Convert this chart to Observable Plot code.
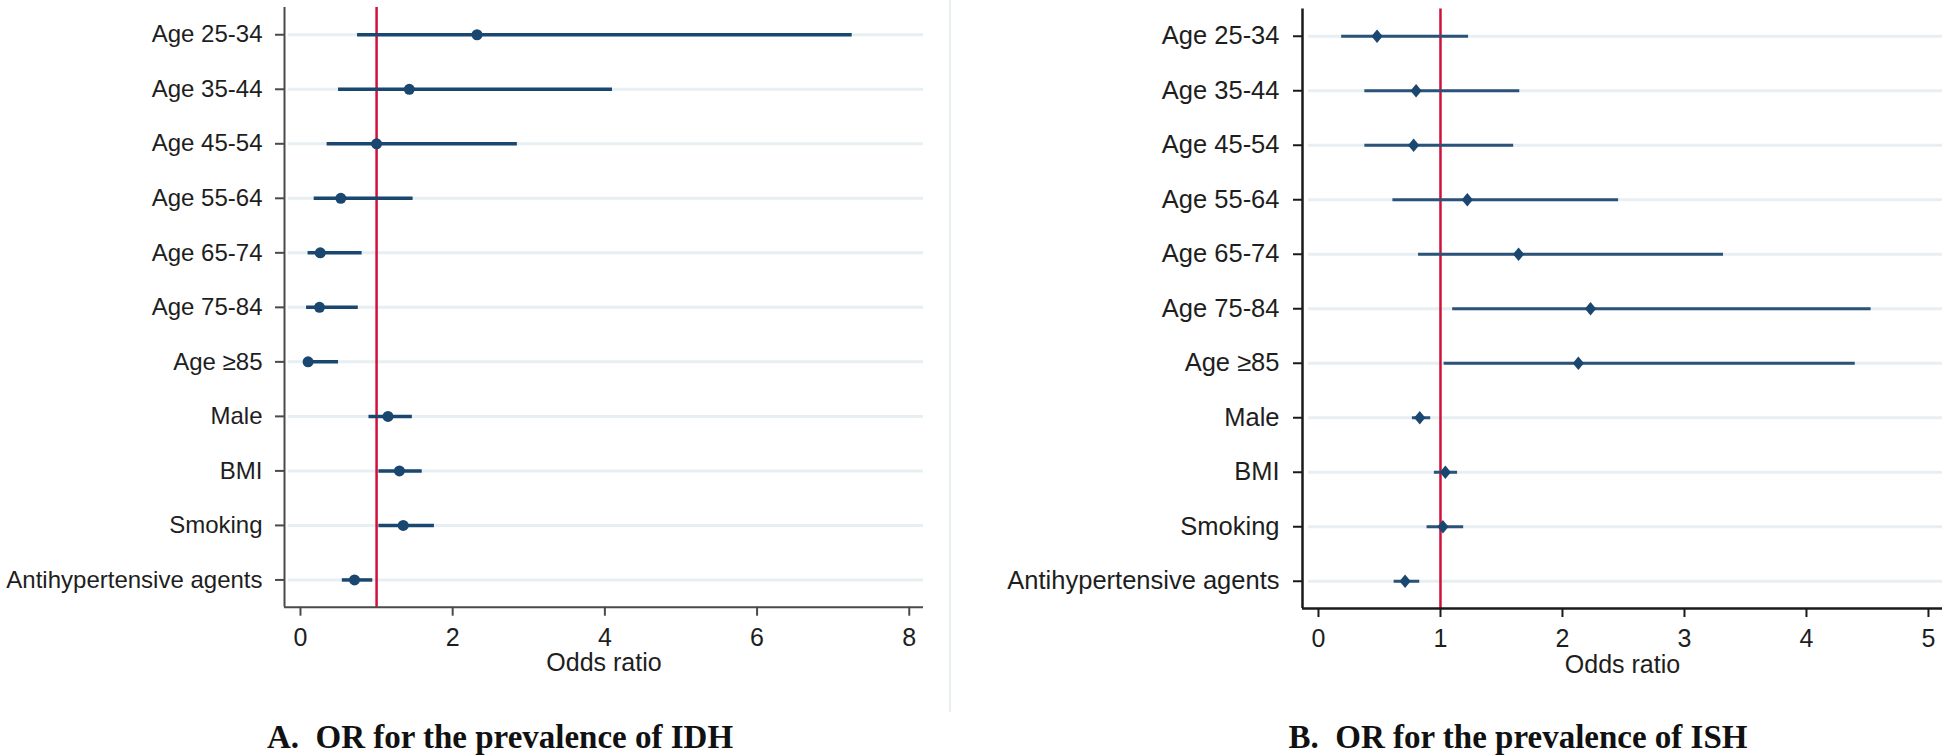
<!DOCTYPE html>
<html>
<head>
<meta charset="utf-8">
<script src="https://cdn.jsdelivr.net/npm/d3@7"></script>
<script src="https://cdn.jsdelivr.net/npm/@observablehq/plot@0.6"></script>
<style>
  html, body { margin: 0; padding: 0; background: #fff; }
  #wrap { position: relative; width: 1946px; height: 756px; overflow: hidden; background: #fff; }
  .panel { position: absolute; top: 0; }
  .caption { position: absolute; font-family: "Times New Roman", "Liberation Serif", serif; font-weight: bold;
             font-size: 33px; color: #111; white-space: pre; transform: translate(-50%, -50%); }
  #sep { position: absolute; left: 949px; top: 0; width: 2px; height: 712px; background: #e9eef0; }
</style>
</head>
<body>
<div id="wrap">
  <div id="left" class="panel" style="left:0px"></div>
  <div id="sep"></div>
  <div id="right" class="panel" style="left:955px"></div>
  <div class="caption" style="left:500px; top:737px">A.  OR for the prevalence of IDH</div>
  <div class="caption" style="left:1518px; top:737px">B.  OR for the prevalence of ISH</div>
</div>
<script>
// ---- data ----
const categories = ["Age 25-34", "Age 35-44", "Age 45-54", "Age 55-64", "Age 65-74", "Age 75-84",
                    "Age \u226585", "Male", "BMI", "Smoking", "Antihypertensive agents"];

// Panel A: IDH
const idhOR = [2.32, 1.43, 1.00, 0.53, 0.26, 0.25, 0.10, 1.15, 1.30, 1.35, 0.71];
const idhLo = [0.75, 0.50, 0.35, 0.18, 0.10, 0.08, 0.04, 0.90, 1.03, 1.03, 0.55];
const idhHi = [7.25, 4.10, 2.85, 1.48, 0.81, 0.76, 0.50, 1.47, 1.60, 1.76, 0.95];
const idhTicks = [0, 2, 4, 6, 8];

// Panel B: ISH
const ishOR = [0.48, 0.80, 0.78, 1.22, 1.64, 2.23, 2.13, 0.83, 1.04, 1.02, 0.71];
const ishLo = [0.19, 0.38, 0.38, 0.61, 0.82, 1.10, 1.03, 0.77, 0.95, 0.89, 0.62];
const ishHi = [1.23, 1.65, 1.60, 2.46, 3.32, 4.53, 4.40, 0.92, 1.14, 1.19, 0.83];
const ishTicks = [0, 1, 2, 3, 4, 5];

const refLine = [1];
const xLabel = ["Odds ratio"];

// custom diamond symbol (slightly taller than wide)
const tallDiamond = {
  draw(ctx, size) {
    const r = Math.sqrt(size / Math.PI);
    const w = r * 1.0, h = r * 1.2;
    ctx.moveTo(0, -h); ctx.lineTo(w, 0); ctx.lineTo(0, h); ctx.lineTo(-w, 0); ctx.closePath();
  }
};

function panel(o) {
  const rows = categories.map((c, i) => ({c, i, or: o.or[i], lo: o.lo[i], hi: o.hi[i]}));
  const yIdx = d3.range(categories.length);
  return Plot.plot({
    width: o.width, height: 680,
    marginLeft: o.ml, marginRight: o.mr, marginTop: o.mt, marginBottom: 680 - o.bottom,
    style: {fontFamily: "Arial, 'Liberation Sans', sans-serif", fontSize: "25px", color: "#1e1e1e",
            background: "transparent", overflow: "visible"},
    x: {domain: o.xdom, ticks: o.ticks},
    y: {domain: [10.5, -0.5]},
    marks: [
      Plot.ruleY(rows, {y: "i", x1: o.xdom[0] + 0.05, x2: o.xdom[1], stroke: "#e7eff2", strokeWidth: 3}),
      Plot.ruleX(refLine, {stroke: "#d0103a", strokeWidth: 2.5}),
      Plot.ruleY(rows, {y: "i", x1: "lo", x2: "hi", stroke: o.barColor, strokeWidth: o.barWidth}),
      Plot.dot(rows, {x: "or", y: "i", r: o.r, symbol: o.symbol, fill: "#1a476f", stroke: "none"}),
      Plot.ruleX([o.xdom[0]], {stroke: o.axisColor, strokeWidth: o.axisWidth}),
      Plot.ruleY([10.5], {stroke: o.axisColor, strokeWidth: o.axisWidth}),
      Plot.axisY({ticks: yIdx, tickFormat: i => categories[i], tickSize: 9, tickPadding: o.yPad,
                  fontSize: o.yFont, label: null, stroke: o.axisColor, strokeWidth: 2}),
      Plot.axisX({ticks: o.ticks, tickFormat: d => String(d), tickSize: 9, tickPadding: 12,
                  fontSize: 25, label: null, stroke: o.axisColor, strokeWidth: 2}),
      Plot.text(xLabel, {frameAnchor: "bottom", dy: 56, lineAnchor: "middle", fill: "#1e1e1e", fontSize: 25})
    ]
  });
}

document.getElementById("left").append(panel({
  or: idhOR, lo: idhLo, hi: idhHi, ticks: idhTicks,
  width: 950, ml: 284, mr: 27, mt: 7, bottom: 606.7,
  xdom: [-0.21, 8.187],
  symbol: "circle", r: 5.5,
  barColor: "#1a476f", barWidth: 3.5,
  axisColor: "#4a4a4a", axisWidth: 2,
  yFont: 24, yPad: 13
}));

document.getElementById("right").append(panel({
  or: ishOR, lo: ishLo, hi: ishHi, ticks: ishTicks,
  width: 991, ml: 347, mr: 4, mt: 8.5, bottom: 608,
  xdom: [-0.131, 5.115],
  symbol: tallDiamond, r: 5.6,
  barColor: "#2b5279", barWidth: 3,
  axisColor: "#1a1a1a", axisWidth: 2.5,
  yFont: 25.5, yPad: 14
}));
</script>
</body>
</html>
